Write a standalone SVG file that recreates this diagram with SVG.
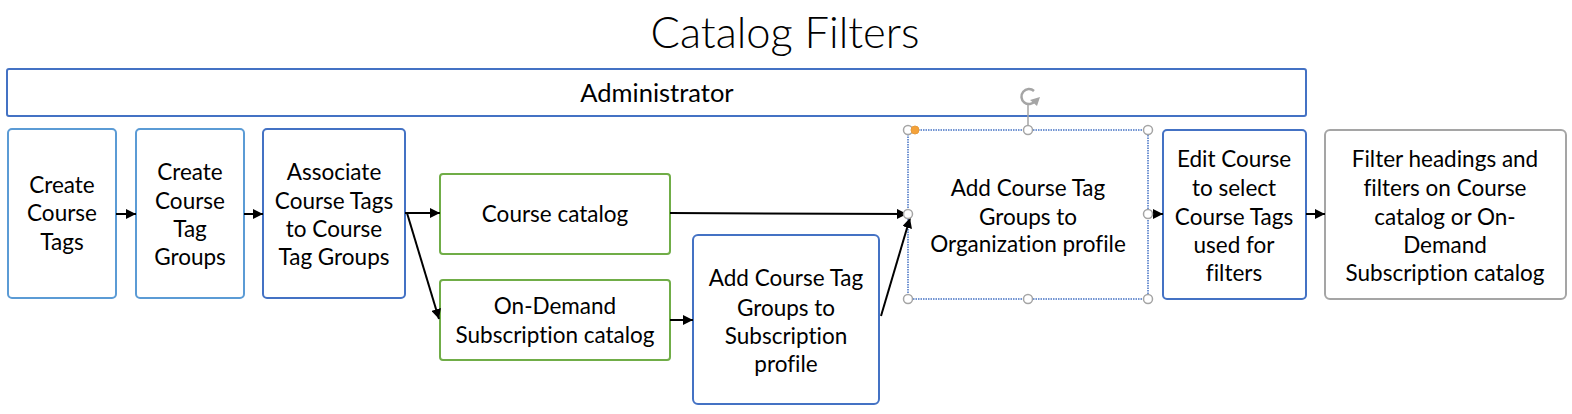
<svg xmlns="http://www.w3.org/2000/svg" width="1572" height="414" viewBox="0 0 1572 414">
<style>
.t{font-family:Lato,"Open Sans","Liberation Sans",sans-serif;font-size:22.5px;fill:#000;text-anchor:middle;font-variant-ligatures:none}
.box{fill:#fff;stroke-width:2}
.lb{stroke:#5B9BD5}
.db{stroke:#4472C4}
.gr{stroke:#70AD47}
.gy{stroke:#A5A5A5}
.c{stroke:#000;stroke-width:2;fill:none;marker-end:url(#ah)}
.h{fill:#fff;stroke:#A5A5A5;stroke-width:1.5}
</style>
<defs>
<marker id="ah" viewBox="0 0 10 10" refX="10" refY="5" markerWidth="5" markerHeight="5" orient="auto" markerUnits="strokeWidth">
<path d="M0,0 L10,5 L0,10 z" fill="#000"/>
</marker>
</defs>
<rect width="1572" height="414" fill="#fff"/>
<text x="785" y="48" style="font-family:Lato,'Open Sans',sans-serif;font-size:43.5px;font-weight:300;text-anchor:middle">Catalog Filters</text>

<g id="administrator">
<rect class="box db" x="7" y="69" width="1299" height="47" rx="2"/>
<text class="t" x="657" y="102" style="font-size:25.5px">Administrator</text>
</g>

<g id="create-course-tags">
<rect class="box lb" x="8" y="129" width="108" height="169" rx="4"/>
<text class="t"><tspan x="62" y="193">Create</tspan><tspan x="62" y="221">Course</tspan><tspan x="62" y="250">Tags</tspan></text>
</g>

<g id="create-course-tag-groups">
<rect class="box lb" x="136" y="129" width="108" height="169" rx="4"/>
<text class="t"><tspan x="190" y="180">Create</tspan><tspan x="190" y="209">Course</tspan><tspan x="190" y="237">Tag</tspan><tspan x="190" y="265">Groups</tspan></text>
</g>

<g id="associate">
<rect class="box db" x="263" y="129" width="142" height="169" rx="4"/>
<text class="t"><tspan x="334" y="180">Associate</tspan><tspan x="334" y="209">Course Tags</tspan><tspan x="334" y="237">to Course</tspan><tspan x="334" y="265">Tag Groups</tspan></text>
</g>

<g id="course-catalog">
<rect class="box gr" x="440" y="174" width="230" height="80" rx="3"/>
<text class="t" x="555" y="222">Course catalog</text>
</g>

<g id="on-demand-catalog">
<rect class="box gr" x="440" y="280" width="230" height="80" rx="3"/>
<text class="t"><tspan x="555" y="314">On-Demand</tspan><tspan x="555" y="343">Subscription catalog</tspan></text>
</g>

<g id="subscription-profile">
<rect class="box db" x="693" y="235" width="186" height="169" rx="5"/>
<text class="t"><tspan x="786" y="286">Add Course Tag</tspan><tspan x="786" y="316">Groups to</tspan><tspan x="786" y="344">Subscription</tspan><tspan x="786" y="372">profile</tspan></text>
</g>

<g id="organization-profile">
<rect x="908" y="130" width="240" height="169" fill="#fff" stroke="#4472C4" stroke-width="1.5" stroke-dasharray="1.5 1"/>
<text class="t"><tspan x="1028" y="196">Add Course Tag</tspan><tspan x="1028" y="225">Groups to</tspan><tspan x="1028" y="252">Organization profile</tspan></text>
</g>

<g id="edit-course">
<rect class="box db" x="1163" y="130" width="143" height="169" rx="4"/>
<text class="t"><tspan x="1234" y="167">Edit Course</tspan><tspan x="1234" y="196">to select</tspan><tspan x="1234" y="225">Course Tags</tspan><tspan x="1234" y="253">used for</tspan><tspan x="1234" y="281">filters</tspan></text>
</g>

<g id="filter-headings">
<rect class="box gy" x="1325" y="130" width="241" height="169" rx="5"/>
<text class="t"><tspan x="1445" y="167">Filter headings and</tspan><tspan x="1445" y="196">filters on Course</tspan><tspan x="1445" y="225">catalog or On-</tspan><tspan x="1445" y="253">Demand</tspan><tspan x="1445" y="281">Subscription catalog</tspan></text>
</g>

<g id="connectors">
<line class="c" x1="116" y1="214" x2="136" y2="214"/>
<line class="c" x1="244" y1="214" x2="263" y2="214"/>
<line class="c" x1="405" y1="213" x2="440" y2="213"/>
<line class="c" x1="407" y1="213" x2="439" y2="319"/>
<line class="c" x1="670" y1="213" x2="907" y2="214"/>
<line class="c" x1="670" y1="320" x2="693" y2="320"/>
<line class="c" x1="881" y1="316" x2="910" y2="218"/>
<line class="c" x1="1148" y1="214" x2="1163" y2="214"/>
<line class="c" x1="1306" y1="214" x2="1325" y2="214"/>
</g>

<g id="selection-handles">
<line x1="1028" y1="105" x2="1028" y2="130" stroke="#A5A5A5" stroke-width="1.5"/>
<path d="M1034,91 A7.5,7.5 0 1 0 1035,101" fill="none" stroke="#A5A5A5" stroke-width="2.5"/>
<path d="M1030,100 L1040,97 L1037,106 z" fill="#A5A5A5"/>
<circle class="h" cx="908" cy="130" r="4.5"/>
<circle class="h" cx="1028" cy="130" r="4.5"/>
<circle class="h" cx="1148" cy="130" r="4.5"/>
<circle class="h" cx="908" cy="214" r="4.5"/>
<circle class="h" cx="1148" cy="214" r="4.5"/>
<circle class="h" cx="908" cy="299" r="4.5"/>
<circle class="h" cx="1028" cy="299" r="4.5"/>
<circle class="h" cx="1148" cy="299" r="4.5"/>
<circle cx="915" cy="130" r="4" fill="#F4A23A" stroke="#E89B3A" stroke-width="1"/>
</g>
</svg>
